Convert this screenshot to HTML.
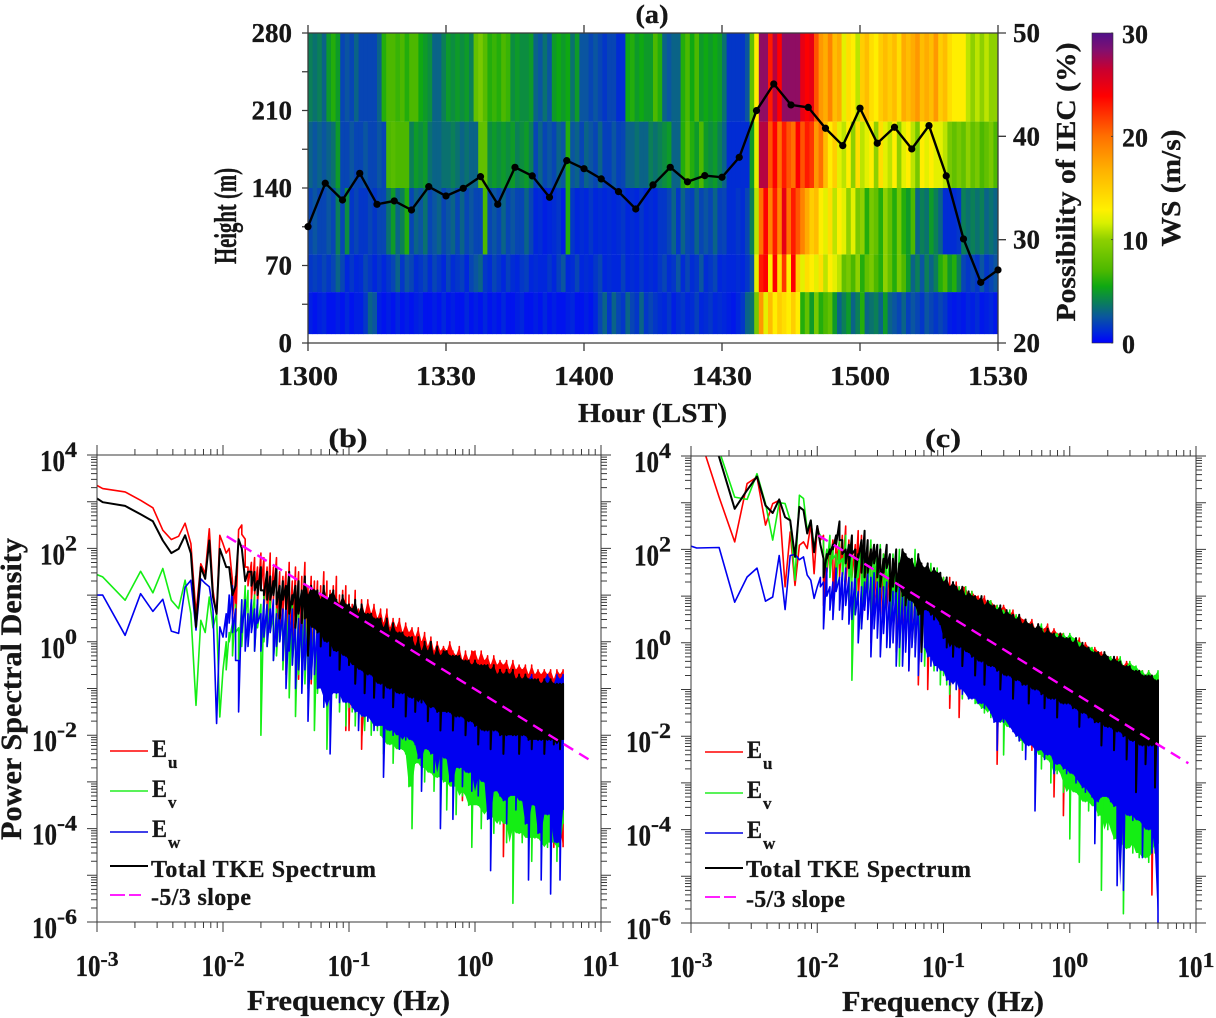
<!DOCTYPE html>
<html lang="en">
<head>
<meta charset="utf-8">
<title>Wind speed, IEC possibility and turbulence spectra</title>
<style>
html,body{margin:0;padding:0;background:#fff;}
svg{display:block;}
text{font-family:"Liberation Serif",serif;font-weight:bold;fill:#161616;stroke:#161616;stroke-width:0.3;}
</style>
</head>
<body>
<svg id="chart" width="1216" height="1018" viewBox="0 0 1216 1018" xmlns="http://www.w3.org/2000/svg">
<defs>
<linearGradient id="wsGradient" x1="0" y1="1" x2="0" y2="0"></linearGradient>
<clipPath id="clipA"><rect x="308" y="33" width="690" height="310"></rect></clipPath>
<clipPath id="clipB"><rect x="97" y="455" width="504" height="467"></rect></clipPath>
<clipPath id="clipC"><rect x="691" y="456" width="505" height="467"></rect></clipPath>
</defs>
<rect x="0" y="0" width="1216" height="1018" fill="#ffffff"></rect>
<g id="panelA"></g>
<g id="panelB"></g>
<g id="panelC"></g>

<text x="652" y="23" font-size="26" text-anchor="middle" textLength="33" lengthAdjust="spacingAndGlyphs">(a)</text>
<text x="348" y="447" font-size="26" text-anchor="middle" textLength="39" lengthAdjust="spacingAndGlyphs">(b)</text>
<text x="943" y="447" font-size="26" text-anchor="middle" textLength="36" lengthAdjust="spacingAndGlyphs">(c)</text>

<text x="652.5" y="422" font-size="27" text-anchor="middle" textLength="149" lengthAdjust="spacingAndGlyphs">Hour (LST)</text>
<text transform="translate(236,216) rotate(-90)" font-size="32" text-anchor="middle" textLength="96" lengthAdjust="spacingAndGlyphs">Height (m)</text>
<text transform="translate(1075,182) rotate(-90)" font-size="27" text-anchor="middle" textLength="279" lengthAdjust="spacingAndGlyphs">Possibility of IEC (%)</text>
<text transform="translate(1180,188) rotate(-90)" font-size="27" text-anchor="middle" textLength="117" lengthAdjust="spacingAndGlyphs">WS (m/s)</text>
<text transform="translate(21,689) rotate(-90)" font-size="30" text-anchor="middle" textLength="302" lengthAdjust="spacingAndGlyphs">Power Spectral Density</text>
<text x="348.5" y="1010" font-size="29" text-anchor="middle" textLength="203" lengthAdjust="spacingAndGlyphs">Frequency (Hz)</text>
<text x="943" y="1011" font-size="29" text-anchor="middle" textLength="202" lengthAdjust="spacingAndGlyphs">Frequency (Hz)</text>

<g font-size="24">
<line x1="110" x2="148" y1="751" y2="751" stroke="#ff0000" stroke-width="1.6"></line>
<text x="152" y="757" font-size="25" textLength="15" lengthAdjust="spacingAndGlyphs">E</text>
<text x="168" y="768" font-size="17">u</text>
<line x1="110" x2="148" y1="791" y2="791" stroke="#22ee22" stroke-width="1.6"></line>
<text x="152" y="797" font-size="25" textLength="15" lengthAdjust="spacingAndGlyphs">E</text>
<text x="168" y="808" font-size="17">v</text>
<line x1="110" x2="148" y1="832" y2="832" stroke="#0000e0" stroke-width="1.6"></line>
<text x="152" y="837" font-size="25" textLength="15" lengthAdjust="spacingAndGlyphs">E</text>
<text x="168" y="848" font-size="17">w</text>
<line x1="110" x2="148" y1="866" y2="866" stroke="#000" stroke-width="2"></line>
<text x="151" y="877" font-size="24" textLength="225" lengthAdjust="spacing">Total TKE Spectrum</text>
<line x1="110" x2="141" y1="895" y2="895" stroke="#ff00ff" stroke-width="1.8" stroke-dasharray="15 4"></line>
<text x="151" y="905" font-size="24" textLength="100" lengthAdjust="spacing">-5/3 slope</text>
</g>

<g font-size="24">
<line x1="705" x2="743" y1="752" y2="752" stroke="#ff0000" stroke-width="1.6"></line>
<text x="747" y="758" font-size="25" textLength="15" lengthAdjust="spacingAndGlyphs">E</text>
<text x="763" y="769" font-size="17">u</text>
<line x1="705" x2="743" y1="793" y2="793" stroke="#22ee22" stroke-width="1.6"></line>
<text x="747" y="798" font-size="25" textLength="15" lengthAdjust="spacingAndGlyphs">E</text>
<text x="763" y="809" font-size="17">v</text>
<line x1="705" x2="743" y1="833" y2="833" stroke="#0000e0" stroke-width="1.6"></line>
<text x="747" y="838" font-size="25" textLength="15" lengthAdjust="spacingAndGlyphs">E</text>
<text x="763" y="849" font-size="17">w</text>
<line x1="705" x2="743" y1="868" y2="868" stroke="#000" stroke-width="2"></line>
<text x="746" y="877" font-size="24" textLength="225" lengthAdjust="spacing">Total TKE Spectrum</text>
<line x1="705" x2="736" y1="897" y2="897" stroke="#ff00ff" stroke-width="1.8" stroke-dasharray="15 4"></line>
<text x="746" y="907" font-size="24" textLength="99" lengthAdjust="spacing">-5/3 slope</text>
</g>
</svg>

<script>
/* ---------- Panel (a) data ---------- */
const hourTickMinutes = [0, 30, 60, 90, 120, 150];
const hourTickLabels = ['1300', '1330', '1400', '1430', '1500', '1530'];
const heightTicks = [0, 35, 70, 105, 140, 175, 210, 245, 280];
const heightTickLabels = ['0', '', '70', '', '140', '', '210', '', '280'];
const iecTicks = [20, 30, 40, 50];
const wsTicks = [0, 10, 20, 30];
const heightEdges = [8, 46, 80, 140, 200, 280];

/* wind speed, m/s, one row per height layer (lowest first), one column per minute */
const wsLayer1 = [0.8,0.5,0.8,1,0.5,0.5,0.8,0.5,1,0.5,0.8,0.8,1.5,3,2.5,0.8,0.5,0.8,0.5,1,0.5,0.8,0.5,0.8,1,0.5,0.5,0.8,0.5,1,0.5,0.8,0.5,0.5,1,0.5,0.8,0.5,1,0.5,0.8,0.5,1,0.5,0.5,0.8,1,0.5,0.5,0.8,0.5,1,0.5,0.8,0.5,0.5,0.8,1,0.5,0.5,0.8,0.5,1,2,3,1.5,3,2,1.5,3,2,1.5,3,1.5,2,1.5,1.2,
1,1.5,0.8,1.2,1.5,1,1.2,1.8,1,1.2,1.5,1,1.2,1,0.8,0.6,1,1.5,3,3.5,9,18,12,16,13,15,14,13,15,13,6,8,5,9,6,7,8,5,3,4,5,3,4,6,3,3.5,4,3,5,3,2.5,2,3,1.8,2.5,2,1.5,2.5,2,1.5,2,1.5,0.8,0.6,0.8,0.6,1,0.8,1.2,0.6,0.8,1,0.6];
const wsLayer2 = [1.5,1.8,1.5,2,1.5,2,3,2,1,1.5,1,1.2,2,1.5,1,1.5,1,1.5,2,3,1.5,2.5,2,1.2,1.5,2,1.2,2,1.5,1,2,1.2,1.5,1.8,1,2,2.5,3,1.5,1.2,2,1.5,1,1.8,1.2,1,1.5,1.8,1,1.2,1,1,1.5,1,1.8,2.5,1,1.2,2,1,1.2,1,1.5,2,1,1.2,1,1,1.8,1,1.2,1,1.5,1,1.2,1,1.5,
2,1.2,1.5,2.5,1.2,2,1.2,1.5,2.5,1.2,1.5,2,1,1.2,1,1,1.2,1,1.5,2.5,12,23,24,13,24,14,22,13,24,15,12,14,13,12,14,11,13,12,11,8,9,7,10,6,8,9,7,6,10,8,6,9,7,5,3,4,2.5,4,3,4,6,7,5,6,4,2,1.5,2,1.5,2.5,1.5,2,2.5];
const wsLayer3 = [2,2.5,2,2,2.5,2,4,2,4.5,1.5,2,1.5,1.5,2,1.5,2,2,3.5,5,3,4,6,2,3,2.5,3.5,2,2.5,3,2,2.5,3,2,3,2,2.5,2,2,7,2,2.5,2,3,2,2.5,2,2,3,2,1,1.2,0.8,1,1.2,1.5,0.8,6,1.5,1,1.2,1,1.5,1,1.2,1,1.2,1,1.2,1.5,1,1.2,1,1.5,1,1.2,1,1.5,
1.5,2,3,1.5,3,2,1.8,3,2,2.5,2,3,1.8,2,1.2,1.2,1.5,1.2,2,4,11,20,24,19,23,19,25,20,23,21,19,17,15,16,13,12,14,11,13,12,10,12,9,10,6,9,8,6,10,8,6,9,6,5,7,3,4,3.5,5,4,3,1.2,1.2,1.2,1.5,4,3.5,4,3.5,4,3,3.5,3];
const wsLayer4 = [3,2.5,3,2.5,3,3.5,5,2,2,2.5,2,2,2.5,2,2,2.5,2,7,7.5,7,7,7,4,5,4.5,5,3.5,3,3,3.5,3.5,4,3.5,3,3.5,3,3,8,8,4.5,5,4.5,5,4.5,5,4,4.5,5,4,2,3,2,2.5,2,3,2.5,6,2.5,3,2,3,2.5,2,3,1.8,1.8,2.5,1.8,2,3,3,3.5,3,3,4,3.5,4,
4.5,5,3,3,6,7.5,6,5,7,5,4.5,5,4,3,1.2,1.2,1.2,1.2,1.2,5,12,27,27,21,24,20,23,21,20,24,21,23,22,18,20,16,13,15,12,11,13,10,14,11,12,13,10,14,12,11,13,10,12,13,11,9,13,12,13,12,12,11,9,8,9,8,10,8,9,7,8,9,7];
const wsLayer5 = [4,3.5,4,3,5,6,5,2,2.5,2,3,2,2,2,2,3,6,7,7,6.5,7,6,7,7,5.5,5,4.5,3,3,4,5,4.5,5,4.5,5,4,8,9,7.5,6,6.5,6,7,6.5,4.5,5,4.5,4.5,5,3,2.5,3.5,2.5,5,5.5,5,5.5,3.5,5,2.5,2.5,2,2.5,2,1.5,2,2,1.2,1.2,5.5,6,5,5.5,5,5,7,6,
3,2.5,3,3,6,7,5.5,7,5,5.5,5,5.5,5,3.5,1.5,1.5,1.5,1.5,2.5,8,13,28,28,23,27,24,28,28,28,28,25,24,25,21,18,17,19,16,17,12,14,13,11,15,16,14,13,15,16,15,16,14,17,16,17,18,16,17,16,18,15,16,14,13,13,13,11,10,11,10,11,10,10];
const wsLayers = [wsLayer1, wsLayer2, wsLayer3, wsLayer4, wsLayer5];

/* possibility of IEC (%), sampled every 3.75 minutes */
const iecValues = [31.26,35.46,33.84,36.42,33.42,33.75,32.87,35.13,34.23,34.97,36.1,33.42,37.0,36.17,34.1,37.65,36.87,35.88,34.65,32.97,35.3,37.0,35.6,36.2,36.04,37.97,42.49,45.07,43.04,42.8,40.78,39.1,42.72,39.33,40.88,38.78,41.04,36.17,30.07,25.87,27.07];
const iecSampleMinutes = 3.75;

/* colour map */
const cmapValues = [0,1,2.5,3.8,5.5,7,10,11.6,12.9,16.8,20,23.9,26.5,28.4,30];
const cmapColors = ['#0000ff','#0026dc','#0a55a0','#0a7a60','#0fa812','#4cb800','#8ed000','#d8f000','#fff000','#ffb000','#ff7000','#ff0000','#c80030','#801070','#50108a'];

/* ---------- Spectra data: log10(PSD) ---------- */
const decadeTicksX = [-3, -2, -1, 0, 1];
const decadeTicksY = [-6, -4, -2, 0, 2, 4];

const freqLow = [0.001,0.00111,0.00167,0.00222,0.00278,0.00333,0.00389,0.00444,0.005,0.00556,0.00611,0.00667,0.00722,0.00778,0.00833,0.00889,0.00944];
const freqGrid = [0.01,0.0106,0.0112,0.0119,0.0126,0.0133,0.0141,0.015,0.0158,0.0168,0.0178,0.0188,0.02,0.0211,0.0224,0.0237,0.0251,0.0266,0.0282,0.0299,0.0316,0.0335,0.0355,0.0376,0.0398,0.0422,0.0447,0.0473,0.0501,0.0531,0.0562,0.0596,0.0631,0.0668,0.0708,0.075,0.0794,0.0841,0.0891,0.0944,
0.1,0.106,0.112,0.119,0.126,0.133,0.141,0.15,0.158,0.168,0.178,0.188,0.2,0.211,0.224,0.237,0.251,0.266,0.282,0.299,0.316,0.335,0.355,0.376,0.398,0.422,0.447,0.473,0.501,0.531,0.562,0.596,0.631,0.668,0.708,0.75,0.794,0.841,0.891,0.944,
1,1.06,1.12,1.19,1.26,1.33,1.41,1.5,1.58,1.68,1.78,1.88,2,2.11,2.24,2.37,2.51,2.66,2.82,2.99,3.16,3.35,3.55,3.76,3.98,4.22,4.47,4.73,5];

const bRedLow = [3.35,3.28,3.21,3.03,2.87,2.39,2.19,2.26,2.54,2.1,0.6,1.67,1.46,2.42,1.1,0.57,2.28];
const bRedHi = [2.1,1.9,2.0,1.3,1.4,2.4,2.5,2.2,1.6,1.7,1.8,1.6,1.9,1.8,1.6,1.9,1.6,1.8,1.5,1.4,1.5,1.7,1.3,1.6,1.5,1.4,1.7,1.2,1.4,1.3,1.3,1.2,1.5,1.3,1.1,1.2,1.4,1.0,1.1,1.2,
1.0,0.8,1.1,0.7,0.9,0.6,0.9,0.6,0.8,0.5,0.7,0.4,0.7,0.3,0.5,0.3,0.5,0.2,0.4,0.2,0.3,0.1,0.3,0.0,0.2,-0.1,0.1,-0.2,0.0,-0.2,-0.1,-0.2,0.0,-0.2,-0.3,-0.1,-0.4,-0.2,-0.4,-0.2,
-0.2,-0.4,-0.2,-0.4,-0.3,-0.5,-0.3,-0.5,-0.4,-0.5,-0.4,-0.6,-0.4,-0.6,-0.5,-0.6,-0.5,-0.7,-0.5,-0.7,-0.6,-0.7,-0.6,-0.7,-0.6,-0.8,-0.6,-0.7,-0.6];
const bRedLo = [2.1,1.9,2.0,0.5,0.3,2.4,2.3,1.6,1.2,0.9,1.0,0.8,1.1,0.7,0.4,0.7,0.9,0.3,0.2,0.6,-0.7,0.2,-0.2,0.3,-0.8,0.1,-0.3,0.0,-0.9,0.1,-0.5,-0.2,-0.6,-1.2,-0.4,-0.8,-1.0,-0.6,-0.7,-1.9,
-1.9,-1.0,-1.1,-1.5,-2.3,-1.2,-1.4,-1.3,-1.8,-1.6,-1.5,-1.7,-1.9,-1.6,-1.8,-1.9,-1.7,-2.2,-1.9,-2.0,-2.1,-2.0,-2.5,-2.2,-2.1,-2.4,-2.2,-2.3,-2.6,-2.4,-2.9,-2.5,-2.4,-3.0,-2.6,-2.7,-3.4,-2.8,-2.7,-3.1,
-2.9,-3.0,-3.5,-3.0,-3.1,-3.8,-3.2,-3.3,-3.1,-4.6,-3.4,-3.4,-3.9,-3.5,-3.4,-4.2,-3.6,-3.5,-3.8,-3.6,-4.2,-3.7,-3.7,-4.0,-3.8,-4.4,-3.8,-4.0,-4.4];

const bGreenLow = [1.44,1.39,0.89,1.51,1.05,1.57,0.89,0.71,1.32,0.6,-1.36,0.46,0.2,0.96,0.3,0.6,-1.61];
const bGreenHi = [-0.6,0.0,0.2,0.4,0.8,0.3,0.9,1.2,1.1,0.9,1.0,0.9,0.8,1.0,0.8,1.0,0.6,0.7,0.9,0.6,0.8,0.7,0.9,0.5,0.8,0.6,0.7,0.8,0.5,0.7,0.6,0.7,0.4,0.8,0.5,0.6,0.4,0.6,0.5,0.5,
0.5,0.4,0.5,0.3,0.4,0.3,0.2,0.4,0.2,0.1,0.2,0.1,0.2,0.0,0.1,-0.1,0.0,-0.1,-0.2,-0.1,-0.2,-0.3,-0.2,-0.3,-0.2,-0.3,-0.4,-0.3,-0.4,-0.4,-0.4,-0.5,-0.5,-0.5,-0.6,-0.5,-0.6,-0.6,-0.6,-0.7,
-0.7,-0.7,-0.8,-0.7,-0.8,-0.8,-0.9,-0.8,-0.9,-0.9,-0.9,-1.0,-0.9,-1.0,-1.0,-1.0,-1.0,-1.1,-1.0,-1.1,-1.1,-1.1,-1.2,-1.1,-1.2,-1.2,-1.2,-1.2,-1.2];
const bGreenLo = [-0.6,-0.6,0.0,-0.3,0.2,-0.4,-0.1,0.5,0.1,0.3,-0.2,0.3,-2.0,0.0,-0.1,0.2,-0.4,-0.3,0.0,-0.6,-0.2,-1.2,-0.5,-1.6,-0.7,-0.3,-0.9,-1.0,-0.8,-1.9,-1.1,-0.9,-1.3,-2.3,-1.1,-1.0,-1.2,-1.5,-1.2,-1.8,
-1.4,-1.5,-1.8,-1.4,-1.6,-1.9,-1.7,-2.0,-1.8,-1.9,-2.0,-2.4,-2.1,-2.2,-2.6,-2.2,-2.3,-2.3,-2.4,-3.1,-4.0,-2.6,-2.5,-2.7,-3.0,-2.7,-2.8,-3.2,-2.9,-2.9,-3.0,-3.6,-3.0,-3.1,-3.7,-3.1,-3.3,-3.2,-3.5,-4.4,
-3.4,-3.5,-4.0,-3.6,-3.7,-3.6,-4.1,-3.8,-3.9,-3.8,-4.3,-3.9,-5.6,-4.0,-4.1,-4.3,-4.1,-4.2,-4.7,-4.2,-4.2,-4.4,-4.3,-4.4,-4.3,-4.2,-4.7,-4.4,-3.9];

const bBlueLow = [1.0,1.0,0.14,1.03,0.65,0.91,0.23,0.18,1.17,1.32,0.25,1.35,1.25,1.18,0.67,-1.75,0.32];
const bBlueHi = [0.1,0.6,1.0,1.2,0.7,-0.4,0.9,0.9,0.6,0.9,0.7,0.9,0.6,0.9,0.8,0.7,0.9,0.6,0.8,0.7,0.8,0.6,0.7,0.6,0.5,0.7,0.6,0.4,0.6,0.5,0.4,0.5,0.4,0.5,0.3,0.4,0.5,0.3,0.4,0.3,
0.3,0.2,0.3,0.1,0.2,0.0,0.1,0.0,0.1,-0.1,0.0,-0.1,-0.1,-0.2,-0.1,-0.2,-0.1,-0.3,-0.2,-0.3,-0.3,-0.4,-0.3,-0.4,-0.4,-0.3,-0.5,-0.4,-0.5,-0.5,-0.5,-0.6,-0.5,-0.6,-0.6,-0.5,-0.6,-0.6,-0.6,-0.6,
-0.7,-0.8,-0.7,-0.8,-0.8,-0.7,-0.8,-0.9,-0.8,-0.8,-0.8,-0.9,-0.8,-0.8,-0.9,-0.8,-0.9,-0.8,-0.7,-0.9,-0.8,-0.9,-0.8,-0.7,-0.8,-0.9,-0.7,-0.8,-0.7];
const bBlueLo = [0.1,0.1,0.4,0.2,-0.4,-1.5,0.2,-0.2,-0.1,0.2,-0.2,0.4,-0.2,0.1,-0.1,0.2,-0.4,-0.1,0.0,-0.4,-1.0,-0.2,-0.5,-1.0,-0.6,-1.1,-0.6,-1.7,-0.8,-0.7,-1.0,-0.9,-1.4,-1.2,-2.4,-1.0,-1.1,-1.3,-1.1,-1.3,
-1.3,-1.4,-1.5,-1.9,-1.5,-1.6,-1.7,-1.6,-1.9,-1.8,-1.7,-2.9,-1.8,-1.9,-2.0,-1.9,-2.3,-2.0,-2.1,-2.0,-2.1,-2.2,-2.5,-3.2,-2.2,-2.3,-2.4,-2.8,-2.3,-4.0,-2.4,-2.5,-3.0,-3.8,-2.6,-2.7,-3.1,-2.7,-2.8,-3.2,
-2.8,-3.3,-2.9,-3.0,-3.8,-4.9,-3.2,-3.1,-3.3,-3.4,-3.9,-3.3,-3.2,-3.6,-3.3,-3.4,-3.9,-5.1,-3.4,-3.5,-4.1,-5.1,-3.5,-3.7,-5.4,-3.6,-4.3,-5.1,-3.6];

const bBlackLow = [3.07,2.99,2.91,2.73,2.58,2.17,1.9,1.99,2.28,1.89,0.32,1.6,1.35,2.17,0.96,0.6,1.99];
const bBlackHi = [1.8,1.6,1.6,1.0,1.2,2.2,2.0,1.3,1.5,1.5,1.5,1.3,1.6,1.1,1.5,1.4,1.3,1.6,1.2,1.3,1.2,1.5,1.0,1.2,1.3,1.1,1.4,1.0,1.2,1.1,1.1,0.9,1.2,0.9,1.0,1.1,0.9,0.8,1.0,0.8,
0.8,0.7,0.9,0.6,0.8,0.6,0.6,0.6,0.5,0.5,0.5,0.3,0.5,0.2,0.4,0.2,0.2,0.2,0.1,0.1,0.1,-0.1,0.1,-0.2,0.0,-0.2,0.0,-0.3,-0.1,-0.3,-0.2,-0.2,-0.3,-0.3,-0.3,-0.3,-0.4,-0.4,-0.4,-0.5,
-0.4,-0.5,-0.5,-0.5,-0.5,-0.6,-0.5,-0.7,-0.6,-0.7,-0.6,-0.7,-0.6,-0.8,-0.7,-0.8,-0.7,-0.8,-0.8,-0.8,-0.8,-0.9,-0.8,-0.9,-0.8,-0.9,-0.9,-0.9,-0.9];
const bBlackLo = [1.8,1.6,1.6,1.0,1.2,2.2,2.0,1.3,1.5,1.2,1.1,1.0,1.1,1.0,0.9,0.9,1.0,0.8,0.5,0.9,0.7,0.6,0.8,0.3,0.6,0.4,0.5,-0.3,0.6,0.3,0.2,-0.1,0.3,0.0,-0.3,0.2,-0.2,-0.6,0.0,-0.3,
-0.5,-0.4,-0.9,-0.5,-0.6,-1.1,-0.7,-0.7,-1.2,-0.8,-0.9,-1.2,-0.9,-1.0,-1.4,-1.0,-1.1,-1.1,-1.6,-1.1,-1.2,-1.5,-1.2,-1.3,-1.2,-1.7,-1.4,-1.3,-1.5,-1.9,-1.4,-1.5,-1.5,-1.9,-1.6,-1.6,-1.6,-2.0,-1.7,-1.7,
-1.8,-2.2,-1.8,-1.9,-1.9,-2.3,-1.9,-1.9,-2.0,-2.4,-2.0,-1.9,-2.0,-2.0,-2.4,-2.0,-2.0,-2.1,-2.3,-2.0,-2.1,-2.1,-2.4,-2.1,-2.1,-2.2,-2.1,-2.3,-2.1];

const cRedLow = [5.2,4.6,3.12,2.16,3.41,3.55,2.52,2.98,3.05,1.2,2.37,1.23,2.09,2.16,2.02,2.55,1.48];
const cRedHi = [2.5,2.2,2.3,2.0,2.1,2.2,2.1,2.2,2.3,2.5,2.2,2.3,2.1,2.4,2.3,2.0,2.2,2.1,2.1,1.9,2.0,1.9,2.0,1.8,1.7,1.9,1.6,1.9,1.8,1.7,1.6,1.8,1.6,1.7,1.5,1.6,1.6,1.4,1.5,1.5,
1.4,1.3,1.4,1.2,1.3,1.1,1.2,1.2,1.0,1.1,1.0,1.0,0.9,1.0,0.8,0.9,0.8,0.8,0.7,0.8,0.7,0.6,0.7,0.5,0.6,0.5,0.5,0.4,0.5,0.3,0.4,0.3,0.3,0.4,0.2,0.3,0.2,0.2,0.2,0.1,
0.1,0.1,0.0,0.1,-0.1,0.0,-0.1,-0.2,-0.1,-0.2,-0.2,-0.3,-0.3,-0.3,-0.4,-0.3,-0.4,-0.5,-0.4,-0.5,-0.5,-0.6,-0.6,-0.6,-0.7,-0.6,-0.7,-0.7,-0.7];
const cRedLo = [2.5,2.2,0.8,1.5,1.6,0.9,1.7,1.4,1.3,1.2,1.6,1.4,1.3,0.9,1.1,0.7,1.5,0.0,0.8,1.0,0.6,0.9,0.7,0.3,1.0,-0.2,0.6,0.4,0.5,-0.6,0.4,0.1,-0.9,0.3,0.0,-1.0,0.2,-0.2,-0.1,-0.4,
-0.5,-0.8,-1.4,-0.7,-0.8,-1.6,-0.9,-1.0,-1.1,-1.0,-1.2,-1.2,-1.3,-1.4,-1.3,-1.4,-1.4,-2.6,-1.5,-1.6,-1.5,-1.7,-1.7,-1.6,-1.8,-2.1,-1.8,-1.9,-2.3,-2.0,-2.0,-2.1,-2.1,-2.4,-2.2,-3.3,-2.3,-2.5,-3.7,-2.4,
-2.5,-2.6,-2.6,-2.7,-3.2,-2.8,-2.9,-3.0,-3.1,-3.2,-3.3,-3.0,-3.2,-3.4,-3.3,-3.5,-4.7,-3.4,-3.6,-3.5,-3.7,-3.9,-3.8,-4.0,-3.9,-4.2,-5.4,-4.0,-4.3];

const cGreenLow = [5.6,5.2,4.12,3.12,3.07,3.62,2.98,2.2,3.0,2.98,2.62,1.34,3.16,3.09,2.41,2.62,2.05];
const cGreenHi = [2.4,2.3,2.2,2.0,2.3,2.1,1.9,2.2,1.8,2.3,2.1,2.2,2.0,1.9,2.1,2.4,2.0,2.2,2.1,2.0,2.1,1.9,2.0,1.8,1.9,1.7,2.0,1.8,1.7,1.8,1.7,2.0,1.7,1.6,1.5,1.7,1.7,1.5,1.6,1.5,
1.4,1.4,1.2,1.3,1.2,1.2,1.1,1.2,1.0,1.1,1.0,0.9,1.0,0.8,0.9,0.9,0.7,0.8,0.7,0.7,0.6,0.7,0.5,0.6,0.5,0.4,0.5,0.4,0.4,0.3,0.3,0.4,0.2,0.3,0.2,0.2,0.2,0.1,0.2,0.1,
0.2,0.1,0.1,0.0,0.0,-0.1,-0.1,-0.1,-0.2,-0.2,-0.3,-0.2,-0.3,-0.3,-0.4,-0.4,-0.3,-0.5,-0.5,-0.4,-0.5,-0.5,-0.6,-0.6,-0.7,-0.6,-0.7,-0.7,-0.6];
const cGreenLo = [2.4,2.3,1.5,1.6,1.4,1.8,1.2,1.7,1.3,1.6,0.9,-0.8,0.8,1.4,0.3,1.2,1.0,0.6,1.2,0.5,1.0,0.6,1.1,-0.1,0.8,0.4,-0.5,0.6,0.3,0.2,0.5,0.0,-0.4,0.2,-0.5,-0.1,-0.3,-0.6,0.0,-0.9,
-0.7,-0.9,-1.1,-0.8,-1.0,-0.9,-1.2,-1.0,-1.2,-1.1,-1.3,-1.2,-1.4,-1.5,-1.3,-1.6,-1.4,-1.6,-1.7,-2.4,-1.7,-1.8,-1.8,-1.9,-2.1,-2.3,-2.0,-2.2,-2.0,-2.4,-2.2,-2.7,-2.4,-2.5,-3.0,-2.6,-2.8,-2.7,-3.2,-3.0,
-4.2,-3.1,-3.2,-4.7,-3.3,-3.4,-3.6,-3.3,-3.5,-3.7,-5.3,-3.6,-4.0,-3.8,-4.2,-4.2,-3.9,-5.8,-4.4,-4.3,-4.5,-4.2,-4.6,-4.5,-4.6,-4.7,-4.3,-4.5,-4.3];

const cBlueLow = [2.07,2.03,2.04,0.87,1.41,1.6,0.89,0.98,1.87,0.71,1.87,1.89,1.78,1.84,1.45,1.34,0.95];
const cBlueHi = [1.2,1.4,1.3,1.6,1.2,1.3,1.6,1.4,1.5,1.6,1.4,1.3,1.5,1.1,1.2,1.3,1.5,1.4,1.5,1.3,1.4,1.2,1.3,1.2,1.1,1.3,1.2,1.0,1.2,1.1,1.2,0.9,1.1,1.0,1.2,1.0,0.9,1.1,0.9,1.0,
0.8,0.9,0.7,0.8,0.7,0.7,0.6,0.7,0.5,0.6,0.5,0.5,0.4,0.5,0.3,0.4,0.3,0.3,0.2,0.2,0.1,0.2,0.0,0.1,0.0,-0.1,0.0,-0.1,-0.2,-0.2,-0.3,-0.2,-0.3,-0.4,-0.4,-0.5,-0.4,-0.5,-0.6,-0.6,
-0.6,-0.7,-0.7,-0.7,-0.8,-0.7,-0.8,-0.8,-0.8,-0.8,-0.8,-0.9,-0.9,-0.8,-0.9,-0.9,-0.9,-0.9,-1.0,-0.9,-1.0,-1.0,-1.0,-1.0,-1.0,-1.0,-1.0,-1.0,-1.0];
const cBlueLo = [1.2,1.2,0.3,1.0,0.7,0.5,1.1,0.7,0.5,0.8,0.4,0.5,0.6,0.0,0.3,0.7,0.5,-0.3,0.3,0.1,-0.3,0.2,-0.1,-0.1,0.0,-0.5,-0.1,-0.5,-0.2,-0.6,-0.1,-0.3,-0.7,-0.4,-0.1,-0.3,-0.5,-0.2,-0.6,-0.5,
-0.6,-0.8,-0.9,-0.7,-1.0,-0.8,-1.1,-1.0,-1.2,-1.2,-1.1,-1.3,-1.3,-1.4,-1.3,-1.5,-1.7,-2.3,-1.6,-1.7,-1.6,-1.8,-1.9,-2.0,-2.1,-1.9,-2.5,-2.2,-2.1,-3.6,-2.3,-2.2,-2.5,-2.4,-2.4,-2.8,-2.6,-2.5,-2.7,-2.8,
-2.6,-2.8,-3.0,-2.9,-3.1,-3.2,-3.0,-3.3,-4.3,-3.4,-3.3,-3.2,-3.3,-3.4,-3.5,-5.2,-3.5,-5.3,-3.6,-3.7,-3.8,-3.6,-3.8,-4.6,-3.9,-4.0,-4.5,-3.9,-6.0];

const cBlackLow = [5.2,4.8,3.98,2.87,3.27,3.56,2.94,2.78,3.07,2.69,2.62,1.84,2.91,2.84,2.34,2.62,1.94];
const cBlackHi = [2.5,2.1,1.8,1.9,2.0,2.1,2.3,2.6,2.2,2.0,2.1,2.3,2.0,1.9,2.2,2.4,2.2,2.0,2.1,2.1,2.0,1.8,2.1,1.9,1.8,2.0,1.7,2.0,1.9,1.8,1.8,1.6,1.9,1.7,1.6,1.7,1.5,1.6,1.5,1.5,
1.3,1.4,1.2,1.3,1.2,1.1,1.2,1.0,1.1,1.0,1.0,0.9,1.0,0.8,0.9,0.8,0.8,0.7,0.8,0.6,0.7,0.6,0.6,0.5,0.6,0.4,0.5,0.4,0.4,0.3,0.4,0.3,0.2,0.3,0.2,0.2,0.1,0.2,0.1,0.1,
0.1,0.0,0.1,-0.1,0.0,-0.1,-0.1,-0.2,-0.2,-0.2,-0.3,-0.2,-0.3,-0.4,-0.3,-0.4,-0.4,-0.5,-0.5,-0.5,-0.6,-0.6,-0.6,-0.7,-0.7,-0.7,-0.7,-0.8,-0.8];
const cBlackLo = [2.5,2.1,1.4,1.8,1.9,2.0,2.1,2.2,1.9,1.7,1.6,1.9,1.4,1.8,1.5,1.4,1.5,1.6,1.7,1.4,1.2,1.5,1.6,0.9,1.2,1.1,1.2,1.0,0.8,1.1,0.9,0.8,0.6,-0.2,0.9,0.7,0.6,0.5,0.8,0.4,
0.1,-0.1,0.2,-0.3,0.0,-0.1,-0.5,-0.1,-0.2,-0.3,-0.7,-0.3,-0.4,-0.9,-0.4,-0.5,-0.5,-0.6,-1.0,-0.6,-0.7,-0.7,-1.2,-0.8,-0.8,-0.9,-0.9,-1.3,-0.9,-1.0,-1.0,-1.1,-1.4,-1.1,-1.2,-1.2,-1.6,-1.2,-1.3,-1.3,
-1.3,-1.4,-1.4,-1.8,-1.5,-1.5,-1.6,-1.6,-1.7,-1.7,-2.2,-1.7,-1.8,-1.8,-2.3,-1.9,-1.9,-2.0,-2.5,-2.0,-2.1,-3.2,-2.1,-2.2,-2.6,-2.2,-2.2,-3.1,-2.2];

const bSlopeFreq = [0.0107, 8.7];
const bSlopeValue = [2.26, -2.58];
const cSlopeFreq = [0.0102, 8.7];
const cSlopeValue = [2.3, -2.58];

/* ---------- helpers ---------- */
const NS = 'http://www.w3.org/2000/svg';
function make(parent, tag, attrs, text) {
  const el = document.createElementNS(NS, tag);
  for (const k in attrs) el.setAttribute(k, attrs[k]);
  if (text !== undefined) el.textContent = text;
  parent.appendChild(el);
  return el;
}
const AXIS = '#3a3a3a';

/* ---------- Panel (a) ---------- */
const panelA = document.getElementById('panelA');
const xA = m => 308 + m * 4.6;
const yHeight = h => 343 - h * 310 / 280;
const yIec = v => 343 - (v - 20) * 310 / 30;
const yWs = v => 343 - v * 310 / 30;

function hexRgb(h) { return [1, 3, 5].map(i => parseInt(h.substr(i, 2), 16)); }
function wsColor(v) {
  const c = Math.max(cmapValues[0], Math.min(cmapValues[cmapValues.length - 1], v));
  let i = 0;
  while (i < cmapValues.length - 2 && c > cmapValues[i + 1]) i++;
  const t = (c - cmapValues[i]) / (cmapValues[i + 1] - cmapValues[i]);
  const a = hexRgb(cmapColors[i]), b = hexRgb(cmapColors[i + 1]);
  return 'rgb(' + a.map((p, k) => Math.round(p + (b[k] - p) * t)).join(',') + ')';
}

const heatGroup = make(panelA, 'g', {'clip-path': 'url(#clipA)'});


wsLayers.forEach((layer, r) => {
  const top = yHeight(heightEdges[r + 1]);
  const bottom = yHeight(heightEdges[r]);
  layer.forEach((value, i) => {
    const cell = make(heatGroup, 'rect', {
      x: xA(i), y: top, width: 4.6 + 0.4, height: bottom - top, fill: wsColor(value)
    });
    
    
  });
});

/* frame + ticks */
let frameD = 'M308 33H998V343H308Z';
hourTickMinutes.forEach(m => {
  frameD += 'M' + xA(m) + ' 343v8M' + xA(m) + ' 33v-8';
});
heightTicks.forEach(h => {
  frameD += 'M308 ' + yHeight(h) + 'h-6';
});
iecTicks.forEach(v => {
  frameD += 'M998 ' + yIec(v) + 'h8';
});
const frameA = make(panelA, 'path', {d: frameD, fill: 'none', stroke: AXIS, 'stroke-width': 1.3});



hourTickLabels.forEach((s, i) => {
  const t = make(panelA, 'text', {
    x: xA(hourTickMinutes[i]), y: 385, 'font-size': 27, 'text-anchor': 'middle',
    textLength: 60, lengthAdjust: 'spacingAndGlyphs'
  }, s);
  
  
});
heightTickLabels.forEach((s, i) => {
  if (!s) return;
  const t = make(panelA, 'text', {
    x: 292, y: yHeight(heightTicks[i]) + 9, 'font-size': 27, 'text-anchor': 'end'
  }, s);
  
  
});
iecTicks.forEach(v => {
  const t = make(panelA, 'text', {x: 1013, y: yIec(v) + 9, 'font-size': 27}, String(v));
  
  
});

/* IEC line */
const iecD = iecValues.map((v, i) => (i ? 'L' : 'M') + xA(i * iecSampleMinutes).toFixed(1) + ' ' + yIec(v).toFixed(1)).join('');
const iecLine = make(panelA, 'path', {d: iecD, fill: 'none', stroke: '#000', 'stroke-width': 2.4});


iecValues.forEach((v, i) => {
  const dot = make(panelA, 'circle', {cx: xA(i * iecSampleMinutes), cy: yIec(v), r: 3.6, fill: '#000'});
  
  
});

/* colour bar */
const grad = document.getElementById('wsGradient');
cmapValues.forEach((v, i) => {
  make(grad, 'stop', {offset: v / 30, 'stop-color': cmapColors[i]});
});
const cbar = make(panelA, 'rect', {x: 1092, y: 33, width: 21, height: 310, fill: 'url(#wsGradient)', stroke: '#333', 'stroke-width': 0.6});


wsTicks.forEach(v => {
  const t = make(panelA, 'text', {x: 1122, y: yWs(v) + 10, 'font-size': 26}, String(v));
  
  
  const k = make(panelA, 'line', {x1: 1111, x2: 1113, y1: yWs(v), y2: yWs(v), stroke: '#333', 'stroke-width': 0.8});
  
  
});

/* ---------- Spectrum panels ---------- */
function spectrum(group, p) {
  const x = f => p.left + (Math.log10(f) + 3) * p.decadeX;
  const xl = e => p.left + (e + 3) * p.decadeX;
  const y = v => p.top + (4 - v) * p.decadeY;
  const right = xl(1), bottom = y(-6);

  const clip = make(group, 'g', {'clip-path': 'url(#' + p.clip + ')'});
  
  

  p.series.forEach(s => {
    /* filled core of the dense high-frequency band */
    const denseFrom = s.denseFrom;
    let top = '', under = '';
    for (let i = denseFrom; i < freqGrid.length; i++) {
      const a = s.lo[Math.max(i - 1, denseFrom)], b = s.lo[i], c = s.lo[Math.min(i + 1, freqGrid.length - 1)];
      const med = Math.min(s.hi[i], [a, b, c].sort((m, n) => m - n)[1]);
      top += (i === denseFrom ? 'M' : 'L') + x(freqGrid[i]).toFixed(1) + ' ' + y(s.hi[i]).toFixed(1);
      under = 'L' + x(freqGrid[i]).toFixed(1) + ' ' + y(med).toFixed(1) + under;
    }
    const band = make(clip, 'path', {d: top + under + 'Z', fill: s.color, stroke: 'none'});
    
    

    /* the line itself: low-frequency points then hi/lo swing at each grid frequency */
    let d = '';
    s.low.forEach((v, i) => {
      d += (i ? 'L' : 'M') + x(freqLow[i]).toFixed(1) + ' ' + y(v).toFixed(1);
    });
    freqGrid.forEach((f, i) => {
      const px = x(f).toFixed(1);
      d += 'L' + px + ' ' + y(s.hi[i]).toFixed(1) + 'L' + px + ' ' + y(s.lo[i]).toFixed(1);
    });
    const line = make(clip, 'path', {d: d, fill: 'none', stroke: s.color, 'stroke-width': s.width, 'stroke-linejoin': 'round'});
    
    
  });

  const slope = make(group, 'path', {
    d: 'M' + x(p.slopeFreq[0]) + ' ' + y(p.slopeValue[0]) + 'L' + x(p.slopeFreq[1]) + ' ' + y(p.slopeValue[1]),
    fill: 'none', stroke: '#ff00ff', 'stroke-width': 2.4, 'stroke-dasharray': '11 7'
  });
  
  

  let ticks = 'M' + p.left + ' ' + p.top + 'H' + right + 'V' + bottom + 'H' + p.left + 'Z';
  for (let e = -3; e <= 1; e++) {
    const px = xl(e);
    ticks += 'M' + px + ' ' + bottom + 'v10M' + px + ' ' + p.top + 'v-10';
    if (e < 1) for (let m = 2; m < 10; m++) {
      const q = px + Math.log10(m) * p.decadeX;
      ticks += 'M' + q + ' ' + bottom + 'v6M' + q + ' ' + p.top + 'v-6';
    }
  }
  for (let e = -6; e <= 4; e++) {
    const py = y(e);
    ticks += 'M' + p.left + ' ' + py + 'h-10M' + right + ' ' + py + 'h10';
    if (e < 4) for (let m = 2; m < 10; m++) {
      const q = py - Math.log10(m) * p.decadeY;
      ticks += 'M' + p.left + ' ' + q + 'h-6M' + right + ' ' + q + 'h6';
    }
  }
  const frame = make(group, 'path', {d: ticks, fill: 'none', stroke: AXIS, 'stroke-width': 1});
  
  

  decadeTicksX.forEach(e => {
    const s = String(e);
    const supW = s.length > 1 ? 18 : 12;
    const start = xl(e) - (25 + supW) / 2;
    const base = make(group, 'text', {x: start, y: p.xBase, 'font-size': 31, textLength: 25, lengthAdjust: 'spacingAndGlyphs'}, '10');
    
    
    const sup = make(group, 'text', {x: start + 25, y: p.xBase - 10, 'font-size': 21, textLength: supW, lengthAdjust: 'spacingAndGlyphs'}, s);
    
    
  });
  decadeTicksY.forEach(e => {
    const s = String(e);
    const supW = s.length > 1 ? 20 : 12;
    const end = p.left - 20;
    const base = make(group, 'text', {x: end - supW - 25, y: y(e) + 16, 'font-size': 31, textLength: 25, lengthAdjust: 'spacingAndGlyphs'}, '10');
    
    
    const sup = make(group, 'text', {x: end - supW, y: y(e) + 2, 'font-size': 22, textLength: supW, lengthAdjust: 'spacingAndGlyphs'}, s);
    
    
  });
}

spectrum(document.getElementById('panelB'), {
  left: 97, top: 455, decadeX: 126, decadeY: 46.7, clip: 'clipB', xBase: 976,
  slopeFreq: bSlopeFreq, slopeValue: bSlopeValue,
  series: [
    {name: 'eu-series', color: '#ff0000', width: 1.6, denseFrom: 44, low: bRedLow, hi: bRedHi, lo: bRedLo},
    {name: 'ev-series', color: '#14ee14', width: 1.6, denseFrom: 50, low: bGreenLow, hi: bGreenHi, lo: bGreenLo},
    {name: 'ew-series', color: '#0000f0', width: 1.6, denseFrom: 30, low: bBlueLow, hi: bBlueHi, lo: bBlueLo},
    {name: 'total-tke-series', color: '#000000', width: 2, denseFrom: 26, low: bBlackLow, hi: bBlackHi, lo: bBlackLo}
  ]
});
spectrum(document.getElementById('panelC'), {
  left: 691, top: 456, decadeX: 126.25, decadeY: 46.7, clip: 'clipC', xBase: 977,
  slopeFreq: cSlopeFreq, slopeValue: cSlopeValue,
  series: [
    {name: 'eu-series', color: '#ff0000', width: 1.6, denseFrom: 44, low: cRedLow, hi: cRedHi, lo: cRedLo},
    {name: 'ev-series', color: '#14ee14', width: 1.6, denseFrom: 50, low: cGreenLow, hi: cGreenHi, lo: cGreenLo},
    {name: 'ew-series', color: '#0000f0', width: 1.6, denseFrom: 34, low: cBlueLow, hi: cBlueHi, lo: cBlueLo},
    {name: 'total-tke-series', color: '#000000', width: 2, denseFrom: 26, low: cBlackLow, hi: cBlackHi, lo: cBlackLo}
  ]
});
</script>
</body>
</html>
